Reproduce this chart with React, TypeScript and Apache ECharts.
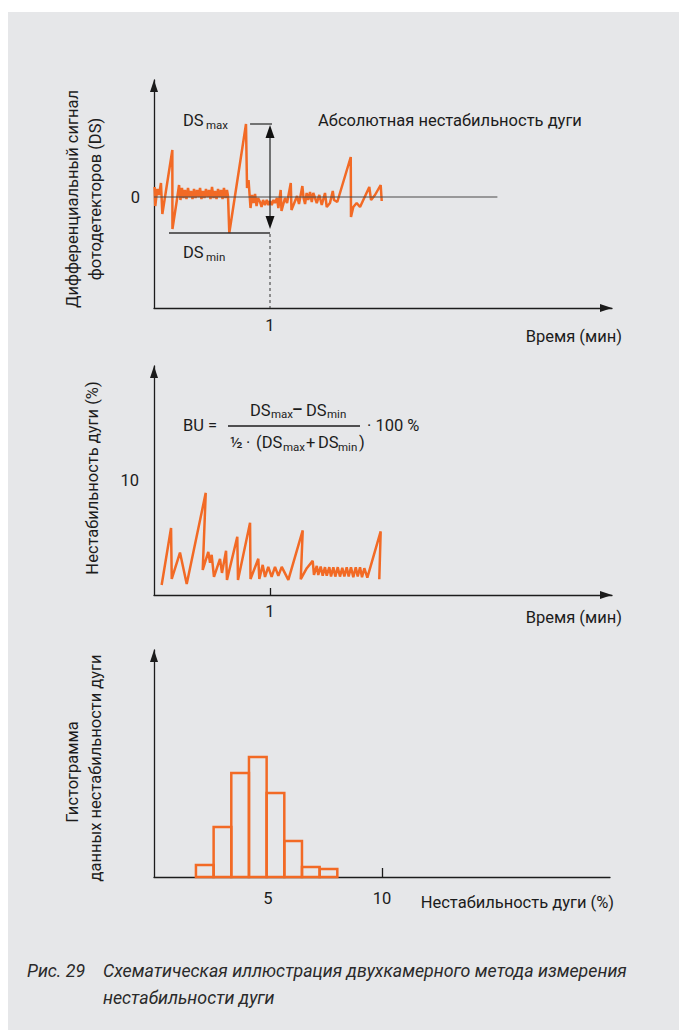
import { useEffect, useRef } from 'react';
import * as echarts from 'echarts';

const ORANGE = '#f26a25';
const INK = '#1c1c1c';
const FONT = 'Roboto, "Noto Sans", sans-serif';

// ---- Chart 1: differential signal of the photodetectors (DS), arbitrary units, vs time (min)
const dsSignal: [number, number][] = [
  [0.005, 1.0], [0.011, -0.9], [0.028, 0.8], [0.043, 0.2], [0.060, 1.4], [0.072, -1.7],
  [0.158, 4.7], [0.159, -3.2], [0.196, -0.4], [0.216, 1.2], [0.228, -0.3],
  [0.241, 0.9], [0.254, -0.1], [0.267, 0.7], [0.280, -0.2], [0.293, 0.9], [0.306, 0.0],
  [0.319, 0.6], [0.332, -0.2], [0.345, 0.8], [0.358, -0.1], [0.371, 0.7], [0.384, 0.0],
  [0.397, 0.9], [0.409, -0.2], [0.422, 0.6], [0.435, -0.1], [0.448, 0.8], [0.461, 0.0],
  [0.474, 0.7], [0.487, -0.2], [0.500, 1.0], [0.513, -0.1], [0.526, 0.6], [0.539, -0.2],
  [0.552, 0.8], [0.565, 0.0], [0.578, 0.7], [0.591, -0.2], [0.603, 0.9], [0.616, -0.1],
  [0.629, 0.7], [0.638, 0.1],
  [0.649, -3.6], [0.698, 0.1], [0.793, 7.3], [0.802, 0.9], [0.815, 1.7], [0.832, -1.1],
  [0.845, 0.2], [0.858, -0.6], [0.871, 0.3], [0.884, -0.9], [0.897, -0.1], [0.914, -0.5],
  [0.927, -1.0], [0.940, -0.3], [0.957, -0.8], [0.972, -0.3], [0.987, -0.8], [1.000, -0.4],
  [1.015, -0.8], [1.030, -0.3], [1.043, -0.6], [1.060, -0.1], [1.072, -1.1], [1.092, 0.7],
  [1.099, -1.4], [1.129, -0.1], [1.147, -0.6], [1.179, 1.4], [1.185, -1.3], [1.216, -0.4],
  [1.233, 0.1], [1.250, -0.7], [1.279, 1.1], [1.289, -0.1], [1.302, -0.7], [1.316, 0.4],
  [1.330, -0.3], [1.345, 0.5], [1.360, -0.5], [1.373, 0.4], [1.403, -0.6], [1.425, 0.2],
  [1.446, -0.8], [1.474, 0.4], [1.489, -1.0], [1.517, -0.6], [1.541, 0.6], [1.552, -0.3],
  [1.580, -0.5], [1.696, 4.0], [1.698, -2.0], [1.718, -1.0], [1.747, -0.6], [1.776, -1.0],
  [1.804, -0.3], [1.856, 1.0], [1.871, -0.3], [1.905, 0.2], [1.954, 1.2], [1.963, -0.4],
];
const dsZeroLine: [number, number][] = [[0, 0], [2.96, 0]];
const dsMarkTime = 1;
const dsMaxSpan = [0.828, 1.017];
const dsMinSpanStart = 0.129;
const dsAxisMin = -11.1;
const dsAxisMax = 11.7;
const timeAxisMax = 3.948;
const dsTickLabels = [0];
const timeTickLabels = [1];

// ---- Chart 2: arc instability BU (%) vs time (min)
const buSeries: [number, number][] = [
  [0.066, 0.88], [0.147, 5.85], [0.153, 1.40], [0.224, 3.71], [0.282, 0.96], [0.446, 8.92],
  [0.420, 2.19], [0.468, 3.77], [0.483, 2.81], [0.497, 3.51], [0.517, 1.58], [0.569, 3.16],
  [0.586, 1.93], [0.621, 3.86], [0.629, 1.32], [0.718, 5.09], [0.724, 1.32], [0.828, 6.32],
  [0.832, 1.40], [0.899, 3.16], [0.908, 1.40], [0.937, 2.63], [0.957, 1.58], [0.985, 2.46],
  [1.014, 1.58], [1.043, 2.46], [1.072, 1.67], [1.101, 2.46], [1.158, 1.32], [1.282, 5.64],
  [1.265, 1.38], [1.317, 2.34], [1.368, 2.98], [1.379, 1.75], [1.403, 2.54], [1.416, 1.75],
  [1.437, 2.48], [1.454, 1.69], [1.474, 2.43], [1.489, 1.69], [1.511, 2.43], [1.526, 1.61],
  [1.546, 2.43], [1.563, 1.61], [1.584, 2.43], [1.603, 1.61], [1.623, 2.37], [1.641, 1.61],
  [1.661, 2.43], [1.678, 1.61], [1.698, 2.43], [1.718, 1.55], [1.739, 2.43], [1.756, 1.61],
  [1.776, 2.43], [1.793, 1.55], [1.813, 2.34], [1.839, 1.52], [1.954, 5.55], [1.942, 1.38],
];
const buAxisMax = 20;
const buTickLabels = [10];

// ---- Chart 3: histogram of the arc instability data
const histEdges = [1.84, 2.615, 3.39, 4.165, 4.94, 5.715, 6.49, 7.265, 8.04];
const histCounts = [6, 25, 52, 60, 42, 18, 5, 4];
const histAxisMax = 20;
const histCountMax = 113.5;
const histTickLabels = [5, 10];
const histTicks = [10];

const FS = 16.5;

const axisLineArrow = (arrow: boolean) => ({
  show: true,
  onZero: false,
  symbol: arrow ? ['none', 'triangle'] : ['none', 'none'],
  symbolSize: [8, 12],
  symbolOffset: [0, -6],
  lineStyle: { color: INK, width: 1.3 },
});

const labelStyle = { color: INK, fontSize: FS, fontFamily: FONT };

const txt = (
  text: string, x: number, y: number,
  opts: { size?: number; align?: string; rot?: number; italic?: boolean; weight?: string; color?: string } = {}
) => ({
  type: 'text',
  x, y,
  rotation: opts.rot ?? 0,
  z: 10,
  style: {
    text,
    fill: opts.color ?? INK,
    fontSize: opts.size ?? FS,
    fontFamily: FONT,
    fontStyle: opts.italic ? 'italic' : 'normal',
    fontWeight: opts.weight ?? 'normal',
    textAlign: opts.align ?? 'left',
    textVerticalAlign: 'middle',
    verticalAlign: 'middle',
  },
});

export default function App() {
  const ref = useRef<HTMLDivElement>(null);

  useEffect(() => {
    if (!ref.current) return;
    const chart = echarts.init(ref.current, undefined, { renderer: 'svg' });
    const dsMax = Math.max(...dsSignal.map((p) => p[1]));
    const dsMin = Math.min(...dsSignal.map((p) => p[1]));
    const ROT = Math.PI / 2;
    const SUB = 11.5;
    const CAP = { size: 17.8, italic: true, color: '#2a2a2a' };

    const option: any = {
      animation: false,
      grid: [
        { left: 154, top: 80, width: 458, height: 228, outerBoundsMode: 'none' },
        { left: 154, top: 366, width: 458, height: 229, outerBoundsMode: 'none' },
        { left: 154, top: 650, width: 456, height: 227, outerBoundsMode: 'none' },
      ],
      xAxis: [
        {
          type: 'value', gridIndex: 0, min: 0, max: timeAxisMax,
          axisLine: axisLineArrow(true), axisTick: { show: false }, splitLine: { show: false },
          axisLabel: { ...labelStyle, customValues: timeTickLabels, margin: 9 },
        },
        {
          type: 'value', gridIndex: 1, min: 0, max: timeAxisMax,
          axisLine: axisLineArrow(true),
          axisTick: { show: true, inside: true, length: 7, customValues: timeTickLabels, lineStyle: { color: INK, width: 1.3 } },
          splitLine: { show: false },
          axisLabel: { ...labelStyle, customValues: timeTickLabels, margin: 8 },
        },
        {
          type: 'value', gridIndex: 2, min: 0, max: histAxisMax,
          axisLine: axisLineArrow(false),
          axisTick: { show: true, inside: true, length: 9, customValues: histTicks, lineStyle: { color: INK, width: 1.3 } },
          splitLine: { show: false },
          axisLabel: { ...labelStyle, customValues: histTickLabels, margin: 13 },
        },
      ],
      yAxis: [
        {
          type: 'value', gridIndex: 0, min: dsAxisMin, max: dsAxisMax,
          axisLine: axisLineArrow(true), axisTick: { show: false }, splitLine: { show: false },
          axisLabel: { ...labelStyle, customValues: dsTickLabels, margin: 14 },
        },
        {
          type: 'value', gridIndex: 1, min: 0, max: buAxisMax,
          axisLine: axisLineArrow(true), axisTick: { show: false }, splitLine: { show: false },
          axisLabel: { ...labelStyle, customValues: buTickLabels, margin: 15 },
        },
        {
          type: 'value', gridIndex: 2, min: 0, max: histCountMax,
          axisLine: axisLineArrow(true), axisTick: { show: false }, splitLine: { show: false },
          axisLabel: { show: false },
        },
      ],
      series: [
        {
          type: 'line', xAxisIndex: 0, yAxisIndex: 0, data: dsSignal, showSymbol: false, symbol: 'none',
          lineStyle: { color: ORANGE, width: 2.5 }, z: 3, silent: true,
        },
        {
          type: 'line', xAxisIndex: 0, yAxisIndex: 0, data: dsZeroLine, showSymbol: false, symbol: 'none',
          lineStyle: { color: '#4a4a4a', width: 1.2 }, z: 4, silent: true,
        },
        {
          type: 'custom', xAxisIndex: 0, yAxisIndex: 0, clip: false, silent: true, z: 5,
          data: [[dsMarkTime, dsMax, dsMin]],
          encode: { x: 0, y: [1, 2] },
          renderItem: (_p: any, api: any) => {
            const t = api.value(0);
            const top = api.coord([t, dsMax]);
            const bot = api.coord([t, dsMin]);
            const base = api.coord([t, dsAxisMin]);
            const maxL = api.coord([dsMaxSpan[0], dsMax]);
            const maxR = api.coord([dsMaxSpan[1], dsMax]);
            const minL = api.coord([dsMinSpanStart, dsMin]);
            const ls = { stroke: '#333', lineWidth: 1.3 };
            return {
              type: 'group',
              children: [
                { type: 'line', shape: { x1: maxL[0], y1: maxL[1], x2: maxR[0], y2: maxR[1] }, style: ls },
                { type: 'line', shape: { x1: minL[0], y1: minL[1], x2: bot[0], y2: bot[1] }, style: ls },
                { type: 'line', shape: { x1: top[0], y1: top[1] + 10, x2: bot[0], y2: bot[1] - 14 }, style: ls },
                {
                  type: 'polygon',
                  shape: { points: [[top[0], top[1] + 1], [top[0] - 4.5, top[1] + 14], [top[0] + 4.5, top[1] + 14]] },
                  style: { fill: '#111' },
                },
                {
                  type: 'polygon',
                  shape: { points: [[bot[0], bot[1] - 4], [bot[0] - 4.5, bot[1] - 17], [bot[0] + 4.5, bot[1] - 17]] },
                  style: { fill: '#111' },
                },
                {
                  type: 'line', shape: { x1: bot[0], y1: bot[1] + 1, x2: base[0], y2: base[1] },
                  style: { stroke: '#333', lineWidth: 1, lineDash: [3, 3] },
                },
              ],
            };
          },
        },
        {
          type: 'line', xAxisIndex: 1, yAxisIndex: 1, data: buSeries, showSymbol: false, symbol: 'none',
          lineStyle: { color: ORANGE, width: 2.5 }, z: 3, silent: true,
        },
        {
          type: 'custom', xAxisIndex: 2, yAxisIndex: 2, silent: true, z: 3,
          data: histCounts.map((c, i) => [histEdges[i], histEdges[i + 1], c]),
          encode: { x: [0, 1], y: 2 },
          renderItem: (_p: any, api: any) => {
            const p0 = api.coord([api.value(0), api.value(2)]);
            const p1 = api.coord([api.value(1), 0]);
            return {
              type: 'rect',
              shape: { x: p0[0], y: p0[1], width: p1[0] - p0[0], height: p1[1] - p0[1] },
              style: { fill: 'none', stroke: ORANGE, lineWidth: 2.5 },
            };
          },
        },
      ],
      graphic: [
        // chart 1
        txt('Дифференциальный сигнал', 72, 199, { align: 'center', rot: ROT }),
        txt('фотодетекторов (DS)', 95, 199, { align: 'center', rot: ROT }),
        txt('DS', 183, 120),
        txt('max', 206, 125, { size: SUB }),
        txt('DS', 183, 252),
        txt('min', 206, 257, { size: SUB }),
        txt('Абсолютная нестабильность дуги', 318, 120),
        txt('Время (мин)', 622, 336, { align: 'right' }),
        // chart 2
        txt('Нестабильность дуги (%)', 92, 478, { align: 'center', rot: ROT }),
        txt('BU =', 183, 425),
        { type: 'line', z: 10, shape: { x1: 228, y1: 426, x2: 360, y2: 426 }, style: { stroke: INK, lineWidth: 1.3 } },
        txt('DS', 250, 410),
        txt('max', 271, 414, { size: SUB }),
        txt('–', 292, 409, { weight: 'bold' }),
        txt('DS', 306, 410),
        txt('min', 327, 414, { size: SUB }),
        txt('½', 230, 442),
        txt('·', 246, 442),
        txt('(DS', 256, 442),
        txt('max', 283, 447, { size: SUB }),
        txt('+', 306, 442),
        txt('DS', 318, 442),
        txt('min', 338, 447, { size: SUB }),
        txt(')', 359, 442),
        txt('· 100 %', 367, 425),
        txt('Время (мин)', 622, 617, { align: 'right' }),
        // chart 3
        txt('Гистограмма', 72, 772, { align: 'center', rot: ROT }),
        txt('данных нестабильности дуги', 95, 768, { align: 'center', rot: ROT }),
        txt('Нестабильность дуги (%)', 614, 902, { align: 'right' }),
        // caption
        txt('Рис. 29', 27, 970, CAP),
        txt('Схематическая иллюстрация двухкамерного метода измерения', 103, 970, CAP),
        txt('нестабильности дуги', 103, 997, CAP),
      ],
    };

    chart.setOption(option);
    return () => chart.dispose();
  }, []);

  return (
    <div style={{ position: 'absolute', left: 0, top: 0, width: 679, height: 1030, background: '#ffffff' }}>
      <div style={{ position: 'absolute', left: 8, top: 12, width: 671, height: 1018, background: '#e6e7e9' }} />
      <div ref={ref} style={{ position: 'absolute', left: 0, top: 0, width: 679, height: 1030 }} />
    </div>
  );
}
